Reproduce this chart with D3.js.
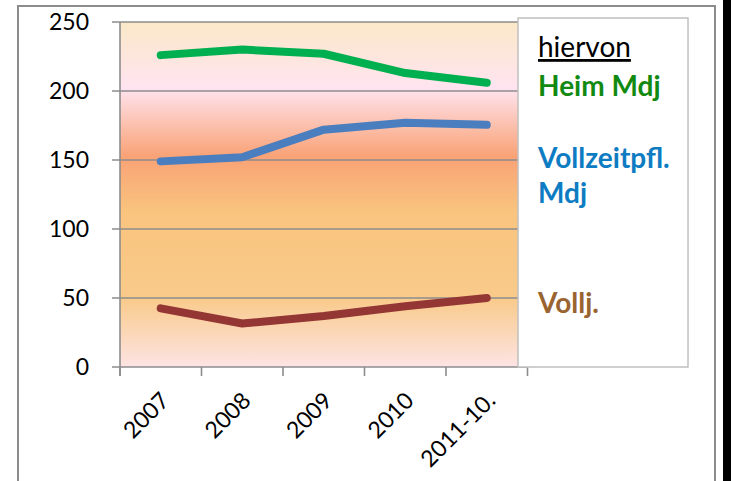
<!DOCTYPE html>
<html>
<head>
<meta charset="utf-8">
<script src="https://cdn.jsdelivr.net/npm/d3@7"></script>
<style>
  body { margin: 0; background: #fff; }
  svg { display: block; }
  text { font-family: Lato, "Open Sans", sans-serif; }
</style>
</head>
<body>
<div id="chart"></div>
<script>
// categories and series
const years = ["2007", "2008", "2009", "2010", "2011-10."];
const heim = [226, 230, 227, 213, 206];
const vollzeit = [149, 152, 172, 177, 175.5];
const vollj = [42.5, 31.5, 37, 44, 50];
const yTicks = [0, 50, 100, 150, 200, 250];

const W = 731, H = 481;
const svg = d3.select("#chart").append("svg").attr("width", W).attr("height", H);

// outer chart frame
svg.append("rect").attr("x", 18).attr("y", 6).attr("width", 697).attr("height", 520)
  .attr("fill", "#fff").attr("stroke", "#8c8c8c").attr("stroke-width", 2);
svg.append("rect").attr("x", 723).attr("y", 0).attr("width", 8).attr("height", H).attr("fill", "#000");

// scales
let x = d3.scaleBand().domain(years).range([120, 527.5]);
let y = d3.scaleLinear().domain([0, 250]).range([367, 22]);
const cx = d => x(d) + x.bandwidth() / 2;

// plot background gradient
const grad = svg.append("defs").append("linearGradient").attr("id", "bg")
  .attr("x1", 0).attr("y1", 0).attr("x2", 0).attr("y2", 1);
[[0, "#fbe8c8"], [0.19, "#ffe4f0"], [0.39, "#f9a276"], [0.55, "#f9c47e"], [0.8, "#f9ca8a"], [1, "#fde4e4"]]
  .forEach(s => grad.append("stop").attr("offset", s[0]).attr("stop-color", s[1]));

svg.append("rect").attr("x", 120).attr("y", y(250)).attr("width", 527.5 - 120).attr("height", y(0) - y(250))
  .attr("fill", "url(#bg)");

// gridlines + y ticks
svg.selectAll(".grid").data(yTicks).enter().append("line")
  .attr("x1", 112).attr("x2", 527.5)
  .attr("y1", d => y(d)).attr("y2", d => y(d))
  .attr("stroke", "#8c8c8c").attr("stroke-width", 1.6);

svg.selectAll(".ylab").data(yTicks).enter().append("text")
  .attr("x", 89).attr("y", d => y(d)).attr("dy", "0.36em")
  .attr("text-anchor", "end").attr("font-size", 23).attr("fill", "#000")
  .text(d => d);

// value axis line
svg.append("line").attr("x1", 120).attr("x2", 120).attr("y1", y(250)).attr("y2", y(0) + 9)
  .attr("stroke", "#8c8c8c").attr("stroke-width", 1.6);

// category ticks between categories
const bounds = years.map(d => x(d)).concat([x.range()[1]]);
svg.selectAll(".xtick").data(bounds).enter().append("line")
  .attr("x1", d => d).attr("x2", d => d).attr("y1", y(0)).attr("y2", y(0) + 9)
  .attr("stroke", "#8c8c8c").attr("stroke-width", 1.6);

svg.selectAll(".xlab").data(years).enter().append("text")
  .attr("transform", d => `translate(${cx(d) + 10},${y(0) + 35}) rotate(-45)`)
  .attr("text-anchor", "end").attr("font-size", 23).attr("fill", "#000")
  .text(d => d);

// series lines
const line = d3.line().x((d, i) => cx(years[i])).y(d => y(d)).curve(d3.curveLinear);
[[heim, "#00b050"], [vollzeit, "#4a7ebf"], [vollj, "#943634"]].forEach(s => {
  svg.append("path").datum(s[0]).attr("d", line)
    .attr("fill", "none").attr("stroke", s[1]).attr("stroke-width", 8)
    .attr("stroke-linecap", "round").attr("stroke-linejoin", "round");
});

// text box acting as legend
svg.append("rect").attr("x", 518).attr("y", 18).attr("width", 170).attr("height", 349)
  .attr("fill", "#fff").attr("stroke", "#c0c0c0").attr("stroke-width", 1.5);

const lg = svg.append("g").attr("font-size", 28);
lg.append("text").attr("x", 538).attr("y", 57).attr("fill", "#000")
  .attr("text-decoration", "underline").text("hiervon");
lg.append("text").attr("x", 538).attr("y", 96).attr("fill", "#128a12").attr("font-weight", "bold").text("Heim Mdj");
lg.append("text").attr("x", 538).attr("y", 168).attr("fill", "#0e7cc2").attr("font-weight", "bold").text("Vollzeitpfl.");
lg.append("text").attr("x", 538).attr("y", 203).attr("fill", "#0e7cc2").attr("font-weight", "bold").text("Mdj");
lg.append("text").attr("x", 538).attr("y", 313).attr("fill", "#9a6431").attr("font-weight", "bold").text("Vollj.");
</script>
</body>
</html>
